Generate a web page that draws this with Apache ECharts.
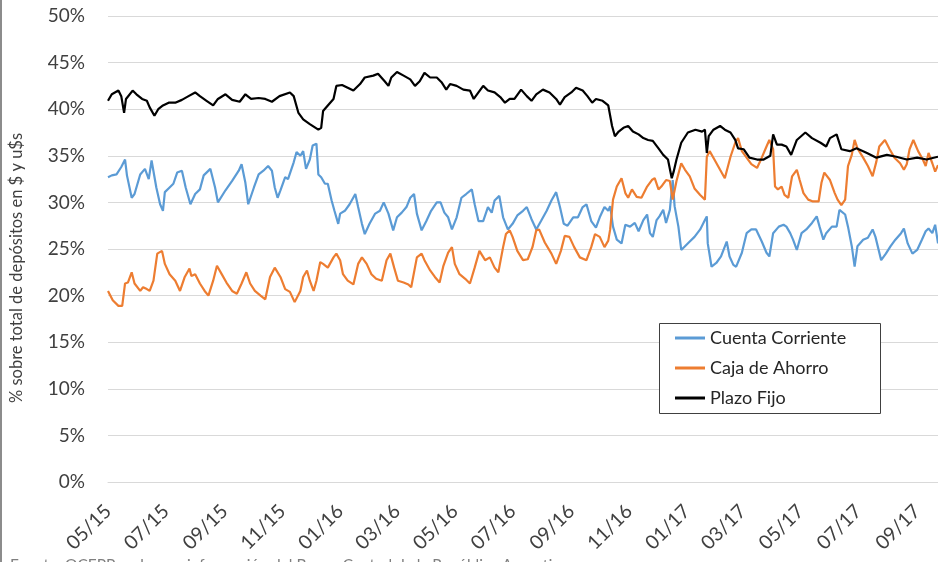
<!DOCTYPE html>
<html><head><meta charset="utf-8">
<script src="https://cdn.jsdelivr.net/npm/echarts@6/dist/echarts.min.js"></script>
<style>html,body{margin:0;padding:0;background:#fff}#c{width:938px;height:562px}</style>
</head><body><div id="c"></div>
<script>
// Eje X: días corridos desde 01/05/2015
const fechaInicio = [2015, 4, 1];
const totalDias = 877;
const nombres = ['Cuenta Corriente', 'Caja de Ahorro', 'Plazo Fijo'];
const colores = ['#5B9BD5', '#ED7D31', '#000000'];
const yTicks = [0, 5, 10, 15, 20, 25, 30, 35, 40, 45, 50];
const tituloY = '% sobre total de depósitos en $ y u$s';
const fuente = 'Fuente: OCEPP en base a información del Banco Central de la República Argentina';

// [día, % ]
const cuentaCorriente = [[0,32.7],[4,32.9],[9,33.0],[14,33.8],[18,34.6],[20,32.9],[25,30.5],[28,30.9],[34,33.0],[39,33.6],[43,32.5],[46,34.5],[48,34.3],[51,31.6],[55,29.8],[58,29.1],[60,31.1],[65,31.6],[69,32.0],[73,33.2],[78,33.4],[82,31.6],[87,29.8],[92,30.9],[97,31.4],[101,32.9],[108,33.6],[113,31.6],[116,30.0],[124,31.3],[131,32.3],[138,33.4],[141,34.1],[145,32.1],[148,29.8],[154,31.6],[159,33.0],[164,33.4],[169,33.9],[173,33.4],[176,31.6],[179,30.5],[182,31.3],[187,32.7],[190,32.5],[196,34.3],[199,35.4],[203,35.0],[206,35.5],[209,33.6],[213,34.6],[216,36.1],[220,36.3],[222,33.0],[225,32.7],[229,32.0],[232,32.0],[236,30.2],[239,29.1],[243,27.7],[245,28.8],[250,29.1],[255,29.8],[261,30.9],[264,29.5],[268,27.7],[271,26.6],[276,27.7],[282,28.8],[287,29.1],[291,30.0],[296,28.8],[301,27.0],[305,28.4],[310,28.9],[315,29.5],[319,30.5],[323,30.9],[326,28.8],[331,27.0],[336,28.0],[341,29.1],[347,30.0],[351,30.0],[355,28.9],[359,28.4],[363,27.1],[368,28.4],[373,30.5],[378,30.9],[384,31.4],[387,29.8],[391,28.0],[396,28.0],[401,29.5],[405,28.9],[408,30.2],[413,30.7],[417,28.4],[422,27.1],[427,27.7],[432,28.6],[438,29.1],[442,29.5],[447,28.2],[452,27.1],[457,28.0],[463,29.1],[468,30.2],[473,31.1],[477,29.5],[481,27.7],[485,27.5],[491,28.4],[496,28.4],[501,29.5],[505,29.8],[510,28.0],[515,27.3],[519,28.4],[524,29.5],[528,29.1],[530,29.6],[533,27.4],[537,26.0],[542,25.6],[546,27.6],[551,27.4],[556,27.8],[560,26.9],[565,28.1],[569,28.7],[572,26.7],[575,26.3],[579,28.1],[582,28.5],[586,29.2],[589,27.8],[593,29.2],[596,32.4],[598,29.6],[602,27.4],[605,24.9],[609,25.3],[614,25.8],[619,26.3],[625,27.1],[630,28.1],[632,28.5],[633,25.6],[637,23.1],[642,23.5],[647,24.2],[653,25.8],[656,24.2],[660,23.3],[663,23.1],[669,24.6],[674,26.7],[679,27.1],[684,27.1],[690,25.8],[695,24.6],[698,24.2],[702,26.7],[708,27.4],[713,27.6],[716,27.4],[720,26.7],[723,26.0],[727,24.9],[732,26.7],[737,27.1],[743,27.8],[748,28.5],[751,27.4],[755,26.0],[758,26.7],[764,27.4],[769,27.4],[772,29.2],[778,28.7],[781,27.4],[785,25.3],[788,23.1],[791,25.3],[797,26.0],[802,26.2],[807,27.1],[810,26.3],[816,23.8],[821,24.5],[826,25.3],[831,26.0],[837,26.7],[840,27.2],[844,25.6],[849,24.5],[854,24.9],[859,26.0],[863,26.9],[866,27.2],[870,26.7],[873,27.6],[876,25.6]];

const cajaAhorro = [[0,20.5],[5,19.5],[11,18.9],[15,18.9],[18,21.3],[21,21.4],[25,22.5],[28,21.3],[34,20.5],[37,20.9],[41,20.7],[44,20.5],[48,21.6],[52,24.5],[57,24.8],[60,23.4],[65,22.3],[71,21.6],[76,20.5],[81,22.0],[86,22.9],[88,22.1],[92,22.3],[97,21.3],[102,20.5],[106,20.0],[111,21.6],[115,23.2],[120,22.3],[125,21.4],[131,20.5],[136,20.2],[141,21.3],[146,22.5],[150,21.3],[155,20.5],[161,20.0],[166,19.6],[171,22.0],[176,23.0],[182,22.0],[187,20.7],[192,20.4],[197,19.3],[203,20.5],[206,22.0],[210,22.7],[213,21.6],[217,20.5],[220,21.6],[224,23.6],[227,23.4],[232,23.0],[238,24.1],[241,24.5],[245,23.8],[248,22.3],[253,21.6],[259,21.2],[264,23.4],[268,24.1],[273,23.4],[278,22.3],[283,21.8],[289,21.6],[294,23.8],[298,24.5],[302,23.0],[306,21.6],[312,21.4],[317,21.2],[320,20.9],[326,24.1],[331,24.5],[334,23.8],[340,22.7],[345,22.0],[350,21.4],[354,23.2],[359,24.6],[363,25.2],[366,23.4],[371,22.3],[377,21.8],[382,21.3],[387,23.0],[392,24.8],[398,23.8],[403,24.1],[408,23.0],[412,22.5],[417,25.2],[420,26.6],[424,27.0],[427,26.3],[432,24.8],[438,23.8],[443,23.9],[448,25.2],[452,27.0],[455,27.1],[461,25.7],[468,24.5],[473,23.4],[478,24.8],[482,26.4],[487,26.3],[492,25.2],[498,24.1],[505,23.8],[510,25.2],[514,26.6],[519,26.3],[524,25.2],[528,25.9],[530,27.1],[533,30.3],[537,31.7],[542,32.6],[546,31.0],[549,30.5],[553,31.4],[558,30.6],[563,30.5],[569,31.7],[574,32.4],[577,32.6],[581,31.4],[584,31.7],[589,32.4],[593,32.3],[596,30.3],[600,32.3],[605,34.2],[609,33.5],[614,32.8],[619,31.5],[625,30.8],[630,30.3],[632,34.9],[635,35.5],[640,34.6],[646,33.5],[651,32.6],[657,34.9],[662,36.4],[665,36.9],[669,35.5],[674,34.8],[679,34.1],[685,33.7],[690,34.8],[695,36.0],[698,36.7],[702,35.7],[704,31.7],[707,31.4],[711,31.7],[714,30.8],[718,30.5],[722,32.8],[727,33.5],[730,32.4],[734,31.0],[739,30.3],[744,30.1],[750,30.1],[753,32.1],[756,33.2],[762,32.4],[767,31.0],[770,30.3],[774,29.7],[778,30.3],[781,33.9],[785,35.1],[788,36.7],[791,35.8],[797,34.8],[802,33.9],[807,32.8],[811,34.4],[814,36.0],[820,36.7],[825,35.7],[830,34.8],[836,34.2],[840,33.5],[843,34.1],[846,35.7],[850,36.7],[855,35.5],[860,34.6],[863,33.9],[866,35.3],[870,34.2],[873,33.3],[876,34.0]];

const plazoFijo = [[0,40.9],[4,41.6],[11,42.0],[14,41.4],[17,39.6],[19,41.1],[26,42.0],[30,41.6],[36,41.1],[41,40.9],[44,40.2],[49,39.3],[53,40.0],[58,40.4],[64,40.7],[71,40.7],[78,41.0],[85,41.4],[92,41.8],[97,41.4],[104,40.9],[111,40.4],[116,41.1],[124,41.6],[131,41.0],[139,40.8],[145,41.6],[151,41.1],[159,41.2],[166,41.1],[173,40.8],[181,41.4],[192,41.8],[196,41.4],[201,39.6],[206,38.9],[213,38.4],[222,37.8],[225,38.0],[227,39.8],[232,40.4],[238,41.1],[241,42.5],[247,42.6],[253,42.3],[259,42.0],[266,42.7],[271,43.4],[280,43.6],[285,43.8],[292,43.0],[296,42.5],[299,43.4],[305,44.0],[312,43.6],[319,43.2],[324,42.5],[329,43.0],[334,43.9],[340,43.4],[347,43.4],[352,42.9],[357,42.1],[361,42.7],[368,42.5],[375,42.1],[382,42.0],[386,41.1],[391,41.8],[396,42.5],[401,42.0],[408,41.8],[414,41.3],[419,40.7],[424,41.1],[429,41.1],[436,42.1],[442,41.4],[447,40.9],[452,41.6],[459,42.1],[466,41.8],[473,41.1],[477,40.5],[482,41.3],[489,41.8],[494,42.3],[501,42.0],[506,41.4],[511,40.7],[515,41.1],[522,40.9],[528,40.4],[532,38.2],[535,37.1],[539,37.6],[544,38.0],[549,38.2],[554,37.6],[560,37.3],[565,36.9],[570,36.7],[575,36.6],[581,35.8],[586,35.1],[591,34.6],[595,32.6],[597,33.3],[600,34.6],[605,36.4],[612,37.5],[620,37.8],[627,37.6],[630,37.8],[632,35.3],[634,37.1],[639,37.8],[646,38.2],[651,37.8],[657,37.5],[662,36.7],[665,35.8],[671,35.7],[677,34.8],[685,34.6],[692,34.6],[699,35.0],[702,37.3],[706,36.2],[711,36.2],[716,36.0],[721,35.1],[727,36.7],[736,37.5],[743,36.9],[752,36.4],[758,36.0],[762,36.9],[769,37.3],[774,35.7],[783,35.5],[790,35.8],[801,35.3],[811,34.8],[822,35.1],[832,34.9],[843,34.6],[854,34.8],[864,34.6],[876,34.9]];

// categorías diarias
const fechas = [];
const base = Date.UTC(fechaInicio[0], fechaInicio[1], fechaInicio[2]);
for (let i = 0; i < totalDias; i++) {
  fechas.push(new Date(base + i * 86400000).toISOString().slice(0, 10));
}
const esEtiqueta = (v) => v.slice(8) === '01' && (+v.slice(5, 7)) % 2 === 1;

const FONT = 'Lato, "Noto Sans", sans-serif';
const chart = echarts.init(document.getElementById('c'), null, {renderer: 'canvas'});
chart.setOption({
  animation: false,
  backgroundColor: '#ffffff',
  grid: {left: 108, right: 0, top: 16, bottom: 80, containLabel: false},
  xAxis: {
    type: 'category',
    data: fechas,
    boundaryGap: false,
    axisLine: {show: true, lineStyle: {color: '#d9d9d9', width: 1}},
    axisTick: {show: false},
    splitLine: {show: false},
    axisLabel: {
      interval: (i, v) => esEtiqueta(v),
      formatter: (v) => v.slice(5, 7) + '/' + v.slice(2, 4),
      rotate: 45,
      margin: 26,
      fontSize: 19.5,
      color: '#404040',
      fontFamily: FONT
    }
  },
  yAxis: {
    type: 'value',
    min: yTicks[0],
    max: yTicks[yTicks.length - 1],
    interval: yTicks[1] - yTicks[0],
    axisLine: {show: false},
    axisTick: {show: false},
    splitLine: {lineStyle: {color: '#d9d9d9', width: 1}},
    axisLabel: {formatter: '{value}%', fontSize: 19, color: '#404040', margin: 23, fontFamily: FONT}
  },
  legend: {
    orient: 'vertical',
    left: 675,
    top: 328,
    padding: 0,
    itemGap: 10,
    itemWidth: 30,
    itemHeight: 3,
    icon: 'rect',
    textStyle: {fontSize: 18, color: '#262626', fontFamily: FONT, lineHeight: 20},
    data: nombres
  },
  graphic: [
    {type: 'rect', z: 3, shape: {x: 659.5, y: 323.5, width: 221, height: 90},
     style: {fill: '#ffffff', stroke: '#404040', lineWidth: 1}},
    {type: 'text', x: 17, y: 268, rotation: Math.PI / 2,
     style: {text: tituloY, fontSize: 16.5, fontFamily: FONT, fill: '#404040', textAlign: 'center', textVerticalAlign: 'middle'}},
    {type: 'rect', shape: {x: 0, y: 0, width: 2, height: 562}, style: {fill: '#8c8c8c'}},
    {type: 'text', x: 10, y: 557,
     style: {text: fuente, fontSize: 15.5, fontFamily: FONT, fill: '#7f7f7f', textAlign: 'left', textVerticalAlign: 'top'}}
  ],
  series: [
    {name: nombres[0], type: 'line', data: cuentaCorriente, showSymbol: false, symbol: 'none', color: colores[0], lineStyle: {width: 2.2, color: colores[0]}},
    {name: nombres[1], type: 'line', data: cajaAhorro, showSymbol: false, symbol: 'none', color: colores[1], lineStyle: {width: 2.2, color: colores[1]}},
    {name: nombres[2], type: 'line', data: plazoFijo, showSymbol: false, symbol: 'none', color: colores[2], lineStyle: {width: 2.2, color: colores[2]}}
  ]
});
</script>
</body></html>
